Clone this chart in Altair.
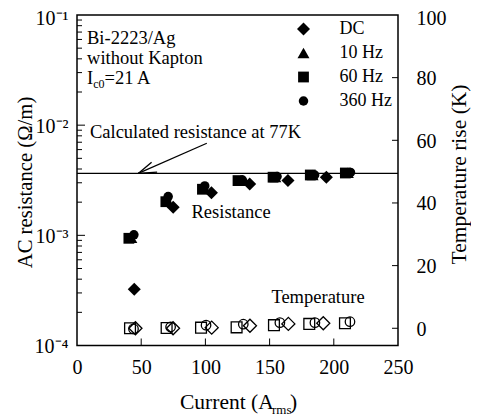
import altair as alt
import pandas as pd

# ---------------- data ----------------
series_order = ["DC", "10 Hz", "60 Hz", "360 Hz"]
series_shapes = ["diamond", "triangle-up", "square", "circle"]
series_sizes = [170, 90, 72, 105]

# AC resistance (Ohm/m) vs current (A_rms)
dc_I = [44.6, 74.9, 104.7, 134.5, 164.3, 194.2]
dc_R = [3.24e-4, 1.80e-3, 2.44e-3, 2.93e-3, 3.14e-3, 3.37e-3]
hz10_I = [42.3, 70.0, 99.0, 127.0, 154.5, 183.5, 211.0]
hz10_R = [9.5e-4, 2.10e-3, 2.70e-3, 3.12e-3, 3.38e-3, 3.53e-3, 3.70e-3]
hz60_I = [40.4, 69.2, 97.7, 125.4, 152.7, 181.7, 209.0]
hz60_R = [9.4e-4, 2.02e-3, 2.62e-3, 3.14e-3, 3.37e-3, 3.53e-3, 3.68e-3]
hz360_I = [44.3, 71.0, 99.5, 128.8, 155.8, 185.1, 213.0]
hz360_R = [1.01e-3, 2.25e-3, 2.81e-3, 3.18e-3, 3.42e-3, 3.53e-3, 3.72e-3]

# Temperature rise (K) vs current (open symbols)
tdc_I = [45.5, 74.8, 104.9, 134.7, 164.6, 191.8]
tdc_T = [0.0, 0.0, 0.2, 0.8, 1.4, 1.6]
t60_I = [41.3, 69.8, 96.6, 124.3, 153.4, 180.9, 208.7]
t60_T = [0.0, 0.1, 0.2, 0.3, 1.0, 1.4, 1.6]
t360_I = [44.0, 72.9, 100.5, 129.5, 158.0, 185.3, 212.6]
t360_T = [-0.2, 0.4, 1.0, 1.3, 1.8, 1.8, 2.1]

calc_R = 3.65e-3  # calculated resistance at 77 K

# arrow (current, resistance) : tail -> tip, and two head arms
arrow_seg = [0, 0, 1, 1, 2, 2]
arrow_I = [101.1, 47.7, 47.7, 58.1, 47.7, 62.4]
arrow_R = [6.85e-3, 3.65e-3, 3.65e-3, 4.61e-3, 3.65e-3, 3.74e-3]

x_ticks = [0, 50, 100, 150, 200, 250]
left_ticks = [1e-4, 1e-3, 1e-2, 1e-1]
right_ticks = [0, 20, 40, 60, 80, 100]
minor_R = [m * 10.0 ** e for e in (-4, -3, -2) for m in range(2, 10)]

# ---------------- tables ----------------
res_rows = []
for name, xs, ys in [("DC", dc_I, dc_R), ("10 Hz", hz10_I, hz10_R),
                     ("60 Hz", hz60_I, hz60_R), ("360 Hz", hz360_I, hz360_R)]:
    res_rows += [{"series": name, "I": a, "R": b} for a, b in zip(xs, ys)]
res_df = pd.DataFrame(res_rows)

temp_rows = []
for name, xs, ys in [("DC", tdc_I, tdc_T), ("60 Hz", t60_I, t60_T), ("360 Hz", t360_I, t360_T)]:
    temp_rows += [{"series": name, "I": a, "T": b} for a, b in zip(xs, ys)]
temp_df = pd.DataFrame(temp_rows)

W, H = 321, 330.5
FONT = "Liberation Serif"

x_scale = alt.Scale(domain=[0, 250], nice=False, zero=False)
x_axis = alt.Axis(values=x_ticks, format="d", labelFontSize=20, labelPadding=12,
                  title=None, labelFlush=False)
yl_scale = alt.Scale(type="log", domain=[1e-4, 1e-1], nice=False)
yl_axis = alt.Axis(values=left_ticks, orient="left", labelFontSize=20, labelPadding=9,
                   labelOffset={"condition": {"test": "datum.value > 0.05", "value": 3},
                                "value": 1},
                   labelExpr="datum.value < 0.0005 ? '10⁻⁴' : datum.value < 0.005 ? '10⁻³' : datum.value < 0.05 ? '10⁻²' : '10⁻¹'",
                   title="AC resistance (Ω/m)", titleFontSize=20.7, titleAngle=270,
                   titleX=-52, titleY=167, titleAlign="center", titleBaseline="middle")
yr_scale = alt.Scale(domain=[-5.5, 100], nice=False, zero=False)
yr_axis = alt.Axis(values=right_ticks, orient="right", labelFontSize=20, labelPadding=18,
                   labelOffset={"condition": {"test": "datum.value > 90", "value": 3},
                                "value": 1},
                   title="Temperature rise (K)", titleFontSize=21.5, titleAngle=270,
                   titleX=61, titleY=159, titleAlign="center", titleBaseline="middle")

X = lambda: alt.X("I:Q", scale=x_scale, axis=x_axis)
YL = lambda: alt.Y("R:Q", scale=yl_scale, axis=yl_axis)
YR = lambda: alt.Y("T:Q", scale=yr_scale, axis=yr_axis)

legend = alt.Legend(orient="none", legendX=217.5, legendY=5, title=None,
                    labelFont=FONT, labelFontSize=18, labelColor="black",
                    labelOffset=27, rowPadding=6, padding=0,
                    symbolFillColor="black", symbolStrokeColor="black", symbolStrokeWidth=0)
shape_scale = alt.Scale(domain=series_order, range=series_shapes)
size_scale = alt.Scale(domain=series_order, range=series_sizes)

# ---------------- left (resistance) layers ----------------
calc_line = alt.Chart(pd.DataFrame({"I": [0], "I2": [250], "R": [calc_R]})).mark_rule(
    color="black", strokeWidth=1.4).encode(x=X(), x2="I2:Q", y=YL())

arrow = alt.Chart(pd.DataFrame({"seg": arrow_seg, "I": arrow_I, "R": arrow_R,
                                "o": list(range(len(arrow_I)))})).mark_line(
    color="black", strokeWidth=1.3).encode(x=X(), y=YL(), detail="seg:N", order="o:Q")

res_pts = alt.Chart(res_df).mark_point(filled=True, opacity=1, color="black").encode(
    x=X(), y=YL(),
    shape=alt.Shape("series:N", scale=shape_scale, legend=legend),
    size=alt.Size("series:N", scale=size_scale, legend=legend),
)

minor_ticks = alt.Chart(pd.DataFrame({"R": minor_R})).mark_rule(color="black", strokeWidth=1).encode(
    y=YL(), x=alt.value(0), x2=alt.value(5))
major_ticks = alt.Chart(pd.DataFrame({"R": [1e-3, 1e-2]})).mark_rule(color="black", strokeWidth=1).encode(
    y=YL(), x=alt.value(0), x2=alt.value(8))
bottom_ticks = alt.Chart(pd.DataFrame({"I": [50, 100, 150, 200]})).mark_rule(color="black", strokeWidth=1).encode(
    x=X(), y=alt.value(H), y2=alt.value(H - 7))

# annotations (positions in data units)
ann = pd.DataFrame({
    "t": ["Bi-2223/Ag", "without Kapton", "I", "=21 A", "Calculated resistance at 77K",
          "Resistance", "Temperature"],
    "I": [7.8, 7.8, 7.8, 21.4, 10.1, 89.2, 151.4],
    "R": [0.0551, 0.0359, 0.0234, 0.0234, 7.57e-3, 1.44e-3, 2.44e-4],
})
ann_text = alt.Chart(ann).mark_text(align="left", baseline="alphabetic", font=FONT,
                                    fontSize=18.5, color="black").encode(x=X(), y=YL(), text="t:N")
sub = pd.DataFrame({"t": ["c0"], "I": [12.6], "R": [0.02153]})
sub_text = alt.Chart(sub).mark_text(align="left", baseline="alphabetic", font=FONT,
                                    fontSize=12, color="black").encode(x=X(), y=YL(), text="t:N")

# x-axis title with subscript
xt_main = alt.Chart(pd.DataFrame({"t": ["Current (A"]})).mark_text(
    align="left", baseline="alphabetic", font=FONT, fontSize=21.5, color="black").encode(
    x=alt.value(103), y=alt.value(394), text="t:N")
xt_sub = alt.Chart(pd.DataFrame({"t": ["rms"]})).mark_text(
    align="left", baseline="alphabetic", font=FONT, fontSize=13, color="black").encode(
    x=alt.value(195), y=alt.value(398.5), text="t:N")
xt_end = alt.Chart(pd.DataFrame({"t": [")"]})).mark_text(
    align="left", baseline="alphabetic", font=FONT, fontSize=21.5, color="black").encode(
    x=alt.value(213), y=alt.value(394), text="t:N")

left = alt.layer(calc_line, arrow, minor_ticks, major_ticks, bottom_ticks, res_pts,
                 ann_text, sub_text, xt_main, xt_sub, xt_end)

# ---------------- right (temperature) layers ----------------
temp_pts = alt.Chart(temp_df).mark_point(filled=False, opacity=1, color="black", strokeWidth=1.3).encode(
    x=X(), y=YR(),
    shape=alt.Shape("series:N", scale=shape_scale, legend=None),
    size=alt.Size("series:N", scale=size_scale, legend=None),
)
right_ticks_layer = alt.Chart(pd.DataFrame({"T": [0, 20, 40, 60, 80]})).mark_rule(
    color="black", strokeWidth=1).encode(y=YR(), x=alt.value(W), x2=alt.value(W - 6))
right = alt.layer(temp_pts, right_ticks_layer)

chart = alt.layer(left, right).resolve_scale(y="independent").properties(
    width=W, height=H,
    autosize=alt.AutoSizeParams(type="none"),
    padding={"left": 69, "top": 7, "right": 73, "bottom": 73},
).configure_view(stroke="black", strokeWidth=1.5).configure_axis(
    labelFont=FONT, titleFont=FONT, labelColor="black", titleColor="black",
    grid=False, ticks=False, domain=False, titleFontWeight="normal",
)

chart.save("out.html", embed_options={"renderer": "svg", "actions": False})
